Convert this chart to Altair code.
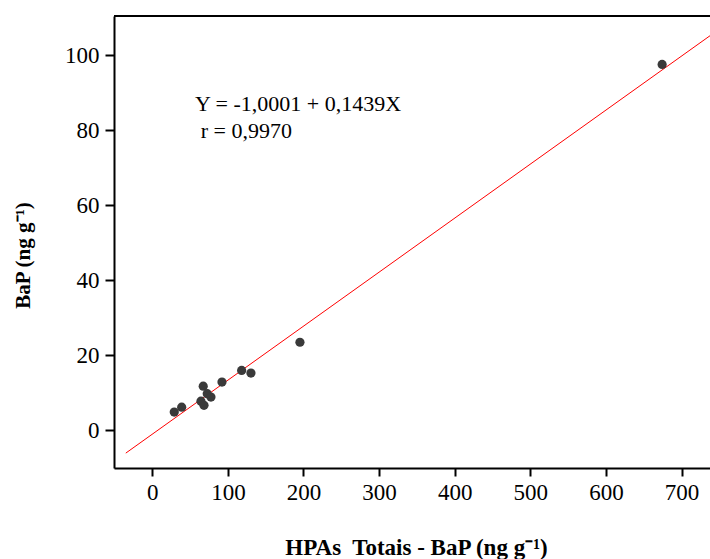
import altair as alt
import pandas as pd

# data
hpa = [29.1, 38.9, 67.4, 64.4, 68.4, 72.7, 77.6, 92.2, 118.2, 130.5, 195.3, 674.3]
bap = [4.9, 6.2, 11.8, 7.8, 6.7, 9.8, 8.9, 12.9, 16.0, 15.3, 23.5, 97.5]
fit_x = [-35.0, 745.0]
intercept = -1.0001
slope = 0.1439
ann_text = ["Y = -1,0001 + 0,1439X", "r = 0,9970"]
ann_x = [56.5, 64.0]
ann_y = [85.0, 77.8]
x_ticks = [0, 100, 200, 300, 400, 500, 600, 700]
y_ticks = [0, 20, 40, 60, 80, 100]
x_dom = [-50.6, 737.6]
y_dom = [-10.0, 110.4]

pts = pd.DataFrame({"x": hpa, "y": bap})
fit = pd.DataFrame({"x": fit_x, "y": [intercept + slope * v for v in fit_x]})
ann = pd.DataFrame({"x": ann_x, "y": ann_y, "t": ann_text})

FONT = "Liberation Serif"

xs = alt.Scale(domain=x_dom, nice=False, zero=False)
ys = alt.Scale(domain=y_dom, nice=False, zero=False)

xenc = alt.X("x:Q", scale=xs, title="HPAs\u00a0 Totais - BaP (ng g⁻¹)",
             axis=alt.Axis(values=x_ticks, grid=False, domainColor="black", domainWidth=2,
                           tickColor="black", tickWidth=2, tickSize=8,
                           labelFont=FONT, labelFontSize=23, labelColor="black", labelPadding=5,
                           titleFont=FONT, titleFontSize=23, titleFontWeight="bold",
                           titleColor="black", titleX=302, titleY=86,
                           titleAlign="center", titleBaseline="alphabetic"))
yenc = alt.Y("y:Q", scale=ys, title="BaP (ng g⁻¹)",
             axis=alt.Axis(values=y_ticks, grid=False, domainColor="black", domainWidth=2,
                           tickColor="black", tickWidth=2, tickSize=9,
                           labelFont=FONT, labelFontSize=23, labelColor="black", labelPadding=6,
                           titleFont=FONT, titleFontSize=21, titleFontWeight="bold",
                           titleColor="black", titleX=-91, titleY=239, titleAngle=270,
                           titleAlign="center", titleBaseline="middle"))

line = alt.Chart(fit).mark_line(color="#ff0000", strokeWidth=1, clip=True).encode(x=xenc, y=yenc)
points = alt.Chart(pts).mark_circle(color="#3a3a3a", opacity=1, size=85).encode(
    x=alt.X("x:Q", scale=xs), y=alt.Y("y:Q", scale=ys))
text = alt.Chart(ann).mark_text(align="left", baseline="alphabetic", font=FONT, fontSize=22,
                                color="black").encode(
    x=alt.X("x:Q", scale=xs), y=alt.Y("y:Q", scale=ys), text="t:N")
top = alt.Chart(pts).mark_rule(color="black", strokeWidth=2).encode(
    x=alt.value(0), x2=alt.value(600), y=alt.value(0))

chart = alt.layer(line, points, text, top).properties(
    width=596, height=452,
    autosize=alt.AutoSizeParams(type="none"),
    padding={"left": 114, "top": 16, "right": 0, "bottom": 91},
).configure_view(stroke=None).configure(background="white")

chart.save("out.html", embed_options={"renderer": "svg", "actions": False})
